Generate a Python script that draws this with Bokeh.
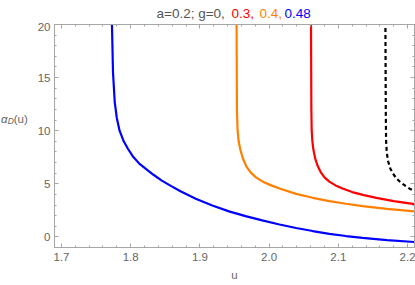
from bokeh.plotting import figure
from bokeh.layouts import column, row
from bokeh.models import Range1d, FixedTicker, LinearAxis, Label, CustomJSTickFormatter
from bokeh.embed import file_html
from bokeh.resources import INLINE

# ---------------- data ----------------
u_blue = [1.7728, 1.7730, 1.7745, 1.7770, 1.7800, 1.7840, 1.7900, 1.7960, 1.8030, 1.8125, 1.8220,
          1.8330, 1.8450, 1.8580, 1.8720, 1.8940, 1.9180, 1.9420, 1.9660, 1.9900, 2.0150,
          2.0390, 2.0630, 2.0870, 2.1110, 2.1350, 2.1700, 2.2100]
y_blue = [21.0, 20.0, 15.5, 12.7, 11.2, 10.0, 9.0, 8.3, 7.6, 6.9, 6.4,
          5.85, 5.3, 4.8, 4.3, 3.6, 2.95, 2.4, 1.95, 1.55, 1.17,
          0.84, 0.55, 0.29, 0.08, -0.09, -0.3, -0.48]

u_orange = [1.9530, 1.9530, 1.9535, 1.9545, 1.9560, 1.9585, 1.9620, 1.9670, 1.9730, 1.9810, 1.9910,
            2.0030, 2.0150, 2.0390, 2.0630, 2.0870, 2.1110, 2.1350, 2.1700, 2.2100]
y_orange = [21.0, 20.0, 12.0, 10.0, 9.0, 8.2, 7.4, 6.65, 6.1, 5.6, 5.2,
            4.85, 4.55, 4.05, 3.68, 3.37, 3.12, 2.9, 2.63, 2.4]

u_red = [2.0605, 2.0605, 2.0610, 2.0615, 2.0625, 2.0640, 2.0665, 2.0700, 2.0745, 2.0800, 2.0870,
         2.0960, 2.1060, 2.1200, 2.1370, 2.1550, 2.1800, 2.2100]
y_red = [21.0, 20.0, 12.0, 10.0, 9.0, 8.2, 7.4, 6.7, 6.1, 5.6, 5.2,
         4.85, 4.55, 4.22, 3.93, 3.67, 3.37, 3.08]

u_black = [2.1680, 2.1680, 2.1685, 2.1690, 2.1700, 2.1720, 2.1750, 2.1790, 2.1840, 2.1900,
           2.1970, 2.2040, 2.2100]
y_black = [21.0, 20.0, 12.0, 9.0, 7.9, 7.1, 6.45, 5.95, 5.5, 5.12, 4.8, 4.5, 4.3]

x_ticks = [1.7, 1.8, 1.9, 2.0, 2.1, 2.2]
x_tick_labels = ["1.7", "1.8", "1.9", "2.0", "2.1", "2.2"]
y_ticks = [0, 5, 10, 15, 20]
y_tick_labels = ["0", "5", "10", "15", "20"]
x_minor = [round(1.68 + 0.02 * i, 2) for i in range(28)]
y_minor = list(range(-1, 21))

title_parts = ["a=0.2; g=0,", "0.3,", "0.4,", "0.48"]
title_colors = ["#555555", "#FF0000", "#FF8000", "#0000FF"]

# ---------------- styles ----------------
FRAME = "#a6a6a6"
TXT = "#666666"
FONT = "Liberation Sans"

X0, X1 = 1.69, 2.21
Y0, Y1 = -1.0, 20.0
FW, FH = 360, 223
TITLE_H = 22
YLAB_W = 34
BL, BT, BR, BB = 19, 2, 2, 36
MAIN_W = BL + FW + BR
MAIN_H = BT + FH + BB
TOTAL_W = YLAB_W + MAIN_W

# ---------------- main plot ----------------
p = figure(frame_width=FW, frame_height=FH,
           x_range=Range1d(X0, X1), y_range=Range1d(Y0, Y1),
           output_backend="svg", toolbar_location=None,
           min_border_left=BL, min_border_top=BT, min_border_right=BR, min_border_bottom=BB,
           background_fill_color="white", border_fill_color="white")
p.xgrid.visible = False
p.ygrid.visible = False
p.outline_line_color = FRAME
p.outline_line_width = 1

def style_axis(ax, show_labels):
    ax.axis_line_color = FRAME
    ax.major_tick_line_color = FRAME
    ax.minor_tick_line_color = FRAME
    ax.major_tick_in = 4
    ax.major_tick_out = 0
    ax.minor_tick_in = 2
    ax.minor_tick_out = 0
    ax.major_label_text_font = FONT
    ax.major_label_text_font_size = "11.5px"
    ax.major_label_text_color = TXT
    ax.axis_label_text_font = FONT
    ax.axis_label_text_color = TXT
    ax.axis_label_text_font_size = "11.5px"
    ax.axis_label_text_font_style = "normal"
    if not show_labels:
        ax.formatter = CustomJSTickFormatter(code="return ''")
        ax.major_label_standoff = 0
        ax.major_label_text_font_size = "1px"

p.xaxis.ticker = FixedTicker(ticks=x_ticks, minor_ticks=x_minor)
p.yaxis.ticker = FixedTicker(ticks=y_ticks, minor_ticks=y_minor)
p.xaxis.major_label_overrides = dict(zip(x_ticks, x_tick_labels))
p.yaxis.major_label_overrides = dict(zip(y_ticks, y_tick_labels))
style_axis(p.xaxis[0], True)
style_axis(p.yaxis[0], True)
p.xaxis.major_label_standoff = 5
p.yaxis.major_label_standoff = 4
p.xaxis.axis_label = "u"
p.xaxis.axis_label_standoff = 5

top = LinearAxis(ticker=FixedTicker(ticks=x_ticks, minor_ticks=x_minor))
right = LinearAxis(ticker=FixedTicker(ticks=y_ticks, minor_ticks=y_minor))
style_axis(top, False)
style_axis(right, False)
p.add_layout(top, "above")
p.add_layout(right, "right")

p.line(u_black, y_black, line_color="black", line_width=2.2, line_dash="4 3")
p.line(u_red, y_red, line_color="#FF0000", line_width=2.2)
p.line(u_orange, y_orange, line_color="#FF8000", line_width=2.2)
p.line(u_blue, y_blue, line_color="#0000FF", line_width=2.2)

# ---------------- title strip (multi-coloured title) ----------------
def blank(w, h):
    f = figure(width=w, height=h, x_range=Range1d(0, w), y_range=Range1d(0, h),
               output_backend="svg", toolbar_location=None,
               x_axis_type=None, y_axis_type=None,
               min_border=0, min_border_left=0, min_border_right=0,
               min_border_top=0, min_border_bottom=0,
               background_fill_color="white", border_fill_color="white")
    f.outline_line_color = None
    f.xgrid.visible = False
    f.ygrid.visible = False
    return f

t = blank(TOTAL_W, TITLE_H)
title_x = [156, 231, 259, 284]      # left edge of each part (px)
for txt, col, xx in zip(title_parts, title_colors, title_x):
    t.add_layout(Label(x=xx, y=TITLE_H - 12.7, text=txt, text_color=col,
                       text_font=FONT, text_font_size="13.5px",
                       text_baseline="alphabetic", text_align="left"))

# ---------------- y-label strip: alpha_D(u) ----------------
yl = blank(YLAB_W, MAIN_H)
base = MAIN_H - (133 - TITLE_H)
yl.add_layout(Label(x=0.5, y=base, text="α", text_color=TXT, text_font=FONT,
                    text_font_size="11.5px", text_font_style="italic",
                    text_baseline="alphabetic"))
yl.add_layout(Label(x=7.3, y=base - 2.4, text="D", text_color=TXT, text_font=FONT,
                    text_font_size="8.5px", text_font_style="italic",
                    text_baseline="alphabetic"))
yl.add_layout(Label(x=13.2, y=base, text="(u)", text_color=TXT, text_font=FONT,
                    text_font_size="11.5px", text_baseline="alphabetic"))

layout = column(t, row(yl, p, spacing=0), spacing=0)
open("out.html", "w").write(file_html(layout, INLINE))
